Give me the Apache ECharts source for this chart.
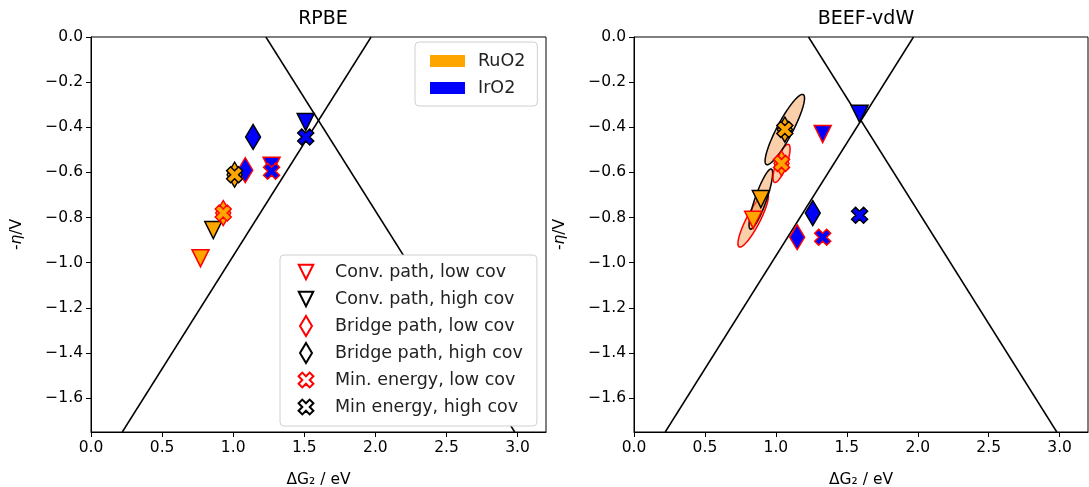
<!DOCTYPE html>
<html>
<head>
<meta charset="utf-8">
<title>RPBE vs BEEF-vdW</title>
<script src="https://cdn.jsdelivr.net/npm/echarts@6/dist/echarts.min.js"></script>
<style>
  html, body { margin: 0; padding: 0; background: #fff; }
  #chart { width: 1089px; height: 487px; }
</style>
</head>
<body>
<div id="chart"></div>
<script>
// Panel titles and legend entries
const panelTitles = ['RPBE', 'BEEF-vdW'];
const materials = ['RuO2', 'IrO2'];
const markerKinds = [
  'Conv. path, low cov',
  'Conv. path, high cov',
  'Bridge path, low cov',
  'Bridge path, high cov',
  'Min. energy, low cov',
  'Min energy, high cov'
];

// Axis ticks
const xTicks = [0.0, 0.5, 1.0, 1.5, 2.0, 2.5, 3.0];
const yTicks = [0.0, -0.2, -0.4, -0.6, -0.8, -1.0, -1.2, -1.4, -1.6];
const xRange = [0, 3.2];
const yRange = [-1.75, 0];

// Limiting-potential lines (ΔG2, -η) end points
const limitLineA = [[0.22, -1.75], [1.97, 0.0]];
const limitLineB = [[1.23, 0.0], [2.98, -1.75]];

// Points [ΔG2, -η], one per entry of markerKinds
const rpbeRuO2 = [[0.77, -0.98], [0.86, -0.855], [0.93, -0.78], [1.01, -0.61], [0.93, -0.78], [1.01, -0.61]];
const rpbeIrO2 = [[1.27, -0.57], [1.51, -0.377], [1.085, -0.59], [1.14, -0.443], [1.27, -0.595], [1.51, -0.443]];
const beefRuO2 = [[0.84, -0.81], [0.894, -0.718], [1.04, -0.56], [1.063, -0.41], [1.04, -0.56], [1.063, -0.41]];
const beefIrO2 = [[1.33, -0.43], [1.59, -0.34], [1.15, -0.887], [1.26, -0.78], [1.33, -0.887], [1.59, -0.79]];

// BEEF ensemble spread for RuO2: [centre x, centre y, major half-axis dx, dy, minor/major ratio, coverage (0 low, 1 high)]
const beefRuO2Spread = [
  [0.84, -0.81, 0.099, 0.120, 0.22, 0],
  [0.894, -0.718, 0.074, 0.133, 0.18, 1],
  [1.04, -0.56, 0.049, 0.084, 0.26, 0],
  [1.063, -0.41, 0.130, 0.155, 0.20, 1]
];

// Styling
const FONT = 'DejaVu Sans';
const materialColors = { RuO2: '#FFA500', IrO2: '#0000FF' };
const edgeColors = ['#FF0000', '#000000'];           // low cov, high cov
const TRI = 'path://M0,0L2,0L1,2Z';
const DIA = 'path://M3,0L6,5L3,10L0,5Z';
const CROSS = 'path://M1,0L2,1L3,0L4,1L3,2L4,3L3,4L2,3L1,4L0,3L1,2L0,1Z';
// legend handles: same outlines, with empty move-to corners setting their scale in the handle box
const TRI_KEY = 'path://M-0.38,-0.38M2.38,2.38M0,0L2,0L1,2Z';
const DIA_KEY = DIA;
const CROSS_KEY = 'path://M-0.7,-0.7M4.7,4.7M1,0L2,1L3,0L4,1L3,2L4,3L3,4L2,3L1,4L0,3L1,2L0,1Z';
const kindSymbols = [TRI, TRI, DIA, DIA, CROSS, CROSS];
const kindKeys = [TRI_KEY, TRI_KEY, DIA_KEY, DIA_KEY, CROSS_KEY, CROSS_KEY];
const kindSizes = [[17, 17], [17, 17], [15, 25], [15, 25], [16, 16], [16, 16]];
const kindEdge = k => edgeColors[k % 2];

const minusFmt = v => (v < -1e-9 ? '\u2212' : '') + Math.abs(v).toFixed(1);

const grids = [
  { left: 91, top: 37, width: 455, height: 395, show: true, borderColor: '#000', borderWidth: 1, backgroundColor: 'transparent', outerBoundsMode: 'none', containLabel: false },
  { left: 634, top: 37, width: 454, height: 395, show: true, borderColor: '#000', borderWidth: 1, backgroundColor: 'transparent', outerBoundsMode: 'none', containLabel: false }
];

function makeX(i) {
  return {
    type: 'value', gridIndex: i, min: xRange[0], max: xRange[1],
    name: 'ΔG₂ / eV', nameLocation: 'middle', nameGap: 40,
    nameTextStyle: { fontFamily: FONT, fontSize: 15.5, color: '#000' },
    axisLine: { show: true, onZero: false, lineStyle: { color: '#000', width: 1 } },
    axisTick: { show: true, inside: false, length: 5, customValues: xTicks, lineStyle: { color: '#000', width: 1 } },
    axisLabel: { show: true, margin: 8, customValues: xTicks, formatter: minusFmt, fontFamily: FONT, fontSize: 15.5, color: '#000' },
    splitLine: { show: false }
  };
}
function makeY(i) {
  return {
    type: 'value', gridIndex: i, min: yRange[0], max: yRange[1],
    name: '-{i|η}/V', nameLocation: 'middle', nameGap: 66, nameRotate: 90,
    nameTextStyle: { fontFamily: FONT, fontSize: 15.5, color: '#000', rich: { i: { fontFamily: FONT, fontSize: 15.5, fontStyle: 'italic', color: '#000' } } },
    axisLine: { show: true, onZero: false, lineStyle: { color: '#000', width: 1 } },
    axisTick: { show: true, inside: false, length: 5, customValues: yTicks, lineStyle: { color: '#000', width: 1 } },
    axisLabel: { show: true, margin: 8, customValues: yTicks, formatter: minusFmt, fontFamily: FONT, fontSize: 15.5, color: '#000' },
    splitLine: { show: false }
  };
}

// Ellipse outline built from its centre and half-axes in data space
function renderSpread(params, api) {
  const cx = api.value(0), cy = api.value(1);
  const c = api.coord([cx, cy]);
  const e = api.coord([cx + api.value(2), cy + api.value(3)]);
  const ax = e[0] - c[0], ay = e[1] - c[1];
  const r = api.value(4);
  const bx = -ay * r, by = ax * r;
  const pts = [];
  const n = 90;
  for (let k = 0; k < n; k++) {
    const t = (k / n) * Math.PI * 2;
    pts.push([c[0] + ax * Math.cos(t) + bx * Math.sin(t), c[1] + ay * Math.cos(t) + by * Math.sin(t)]);
  }
  return {
    type: 'polygon',
    shape: { points: pts },
    style: { fill: 'rgba(245,140,50,0.42)', stroke: edgeColors[api.value(5)], lineWidth: 1.5 }
  };
}

const series = [];

// limiting lines in both panels
[0, 1].forEach(p => {
  [limitLineA, limitLineB].forEach((ln, j) => {
    series.push({
      type: 'line', name: 'limit ' + p + j, xAxisIndex: p, yAxisIndex: p,
      data: ln, symbol: 'none', clip: true, silent: true, z: 1,
      lineStyle: { color: '#000', width: 1.5 }
    });
  });
});

// BEEF ensemble ellipses
series.push({
  type: 'custom', name: 'spread', xAxisIndex: 1, yAxisIndex: 1,
  data: beefRuO2Spread, renderItem: renderSpread, clip: true, silent: true, z: 2,
  encode: { x: 0, y: 1 }
});

// Points
const panelData = [
  { IrO2: rpbeIrO2, RuO2: rpbeRuO2 },
  { IrO2: beefIrO2, RuO2: beefRuO2 }
];
[0, 1].forEach(p => {
  ['IrO2', 'RuO2'].forEach(mat => {
    markerKinds.forEach((kind, k) => {
      series.push({
        type: 'scatter', name: mat + ' / ' + kind + ' / ' + panelTitles[p],
        xAxisIndex: p, yAxisIndex: p, silent: true, z: 3,
        symbol: kindSymbols[k], symbolSize: kindSizes[k], symbolKeepAspect: false,
        itemStyle: { color: materialColors[mat], borderColor: kindEdge(k), borderWidth: 1.5, opacity: 1 },
        data: [panelData[p][mat][k]]
      });
    });
  });
});

// Legend-only series
materials.forEach(mat => {
  series.push({ type: 'scatter', name: mat, xAxisIndex: 0, yAxisIndex: 0, data: [], itemStyle: { color: materialColors[mat], opacity: 1 } });
});
markerKinds.forEach((kind, k) => {
  series.push({
    type: 'scatter', name: kind, xAxisIndex: 0, yAxisIndex: 0, data: [],
    symbol: kindKeys[k], itemStyle: { color: '#FFFFFF', borderColor: kindEdge(k), borderWidth: 1.5, opacity: 1 }
  });
});

const legendText = { fontFamily: FONT, fontSize: 17.5, color: '#222', lineHeight: 20 };

const option = {
  animation: false,
  backgroundColor: '#fff',
  title: [
    { text: panelTitles[0], left: 318, top: 5, textAlign: 'center', textStyle: { fontFamily: FONT, fontSize: 19, fontWeight: 'normal', color: '#000' } },
    { text: panelTitles[1], left: 861, top: 5, textAlign: 'center', textStyle: { fontFamily: FONT, fontSize: 19, fontWeight: 'normal', color: '#000' } }
  ],
  grid: grids,
  xAxis: [makeX(0), makeX(1)],
  yAxis: [makeY(0), makeY(1)],
  legend: [
    {
      data: materials.map(m => ({ name: m, icon: 'rect', itemStyle: { color: materialColors[m], opacity: 1 } })),
      orient: 'vertical', left: 415, top: 42, selectedMode: false,
      itemWidth: 35, itemHeight: 12, itemGap: 7,
      padding: [9, 12, 8, 15],
      backgroundColor: '#fff', borderColor: '#d0d0d0', borderWidth: 1, borderRadius: 4,
      textStyle: Object.assign({ padding: [0, 0, 0, 8] }, legendText)
    },
    {
      data: markerKinds.map((k, i) => ({ name: k, icon: kindKeys[i] })),
      orient: 'vertical', left: 280, top: 255, selectedMode: false,
      itemWidth: 22, itemHeight: 20, itemGap: 5, symbolKeepAspect: true,
      padding: [6, 14, 8, 15],
      backgroundColor: '#fff', borderColor: '#d0d0d0', borderWidth: 1, borderRadius: 4,
      textStyle: Object.assign({ padding: [0, 0, 0, 13] }, legendText)
    }
  ],
  series: series
};

const chart = echarts.init(document.getElementById('chart'), null, { renderer: 'canvas' });
chart.setOption(option);
</script>
</body>
</html>
